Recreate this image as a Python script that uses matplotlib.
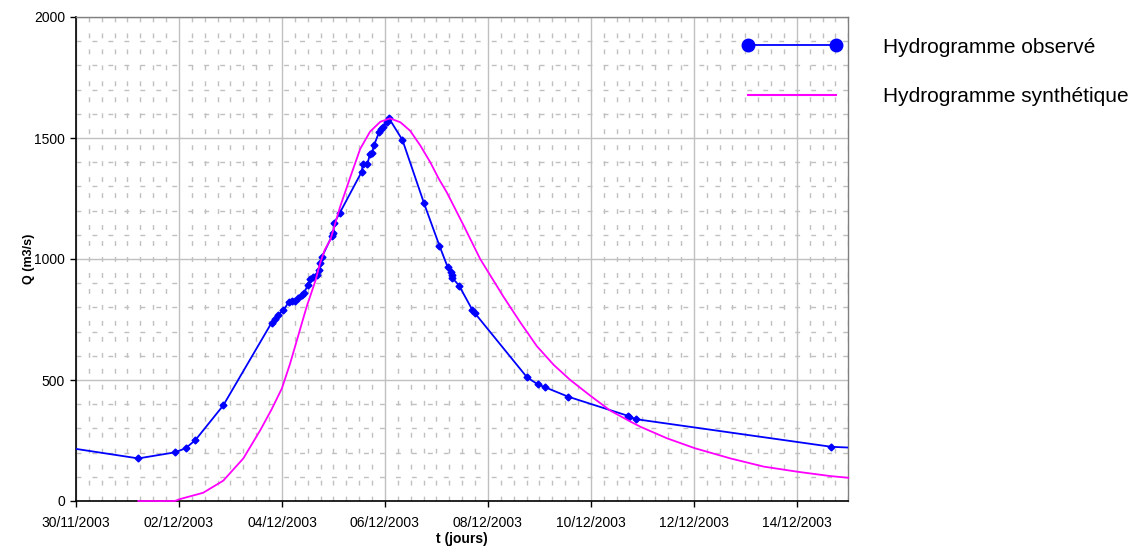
import numpy as np
import pandas as pd
import matplotlib
matplotlib.use('Agg')
import matplotlib.pyplot as plt
import matplotlib.dates as mdates
from matplotlib.lines import Line2D

plt.rcParams['font.family'] = ['Liberation Sans', 'DejaVu Sans']

# time in days since 30/11/2003 00:00
start = pd.Timestamp('2003-11-30')

obs_days = [-0.3, 1.21, 1.92, 2.13, 2.32, 2.86, 3.80, 3.87, 3.93, 4.03, 4.13, 4.19,
            4.26, 4.32, 4.39, 4.43, 4.50, 4.55, 4.61, 4.68, 4.71, 4.74, 4.78, 4.97,
            5.00, 5.01, 5.12, 5.55, 5.57, 5.66, 5.71, 5.75, 5.79, 5.89, 5.92, 5.96,
            6.04, 6.08, 6.34, 6.76, 7.06, 7.22, 7.28, 7.30, 7.31, 7.44, 7.70, 7.74,
            8.76, 8.97, 9.10, 9.56, 10.72, 10.75, 10.88, 14.67, 15.3]
obs_q = [225, 176, 201, 218, 252, 395, 737, 751, 769, 789, 821, 826,
         828, 838, 851, 858, 893, 916, 924, 934, 955, 982, 1010, 1095,
         1106, 1147, 1189, 1361, 1393, 1393, 1434, 1439, 1471, 1526, 1537, 1547,
         1567, 1581, 1492, 1230, 1054, 966, 945, 935, 922, 890, 789, 778,
         511, 482, 471, 431, 352, 348, 338, 224, 218]

syn_days = [1.21, 1.92, 2.02, 2.47, 2.86, 3.25, 3.58, 3.80, 4.00, 4.16, 4.32, 4.48,
            4.65, 4.74, 4.83, 4.94, 5.13, 5.33, 5.52, 5.71, 5.91, 6.10, 6.30, 6.49,
            6.69, 6.88, 7.05, 7.20, 7.53, 7.85, 8.30, 8.63, 8.95, 9.28, 9.60, 9.99,
            10.38, 10.77, 10.96, 11.48, 12.02, 12.71, 13.36, 14.01, 14.65, 15.0]
syn_q = [0, 0, 8, 34, 84, 176, 293, 379, 466, 569, 686, 803,
         910, 982, 1037, 1079, 1216, 1340, 1455, 1526, 1567, 1581, 1565, 1530,
         1468, 1400, 1330, 1276, 1138, 1000, 845, 738, 640, 562, 500, 435,
         373, 328, 307, 259, 218, 176, 142, 121, 103, 96]

labels = ['Hydrogramme observé', 'Hydrogramme synthétique']
x_label = 't (jours)'
y_label = 'Q (m3/s)'


def to_num(days):
    return mdates.date2num(start + pd.to_timedelta(np.asarray(days), unit='D'))


fig = plt.figure(figsize=(11.41, 5.47), dpi=100)
ax = fig.add_axes([76 / 1141, 46 / 547, (848.3 - 76) / 1141, 484 / 547])

grid_col = '#c0c0c0'
x0 = to_num([0])[0]
ax.set_xlim(x0, x0 + 15)
ax.set_ylim(0, 2000)
ax.set_xticks(x0 + np.arange(0, 15, 2))
ax.set_xticks(x0 + np.arange(0, 15.01, 0.25), minor=True)
ax.set_yticks(np.arange(0, 2001, 500))
ax.set_yticks(np.arange(0, 2001, 100), minor=True)
ax.xaxis.set_major_formatter(mdates.DateFormatter('%d/%m/%Y'))

ax.grid(which='major', color=grid_col, lw=1.0, ls='-')
ax.grid(which='minor', color=grid_col, lw=1.0, ls=(0, (3.5, 8)))
ax.set_axisbelow(True)

ax.plot(to_num(obs_days), obs_q, color='#0000ff', lw=1.3, marker='D', ms=3.5,
        zorder=3)
ax.plot(to_num(syn_days), syn_q, color='#ff00ff', lw=1.3, zorder=4, clip_on=False)

for s in ['left', 'bottom']:
    ax.spines[s].set_color('black')
    ax.spines[s].set_linewidth(1.2)
for s in ['top', 'right']:
    ax.spines[s].set_color('#808080')
    ax.spines[s].set_linewidth(1.0)

ax.tick_params(which='major', direction='out', length=4, width=1, labelsize=10,
               colors='black')
ax.tick_params(which='minor', length=0)
ax.tick_params(axis='x', pad=7)
ax.tick_params(axis='y', pad=4)

ax.set_xlabel(x_label, fontsize=10, fontweight='bold', labelpad=1)
ax.set_ylabel(y_label, fontsize=9, fontweight='bold', labelpad=-1)

handles = [Line2D([], [], color='#0000ff', lw=1.3, marker='o', ms=9),
           Line2D([], [], color='#ff00ff', lw=1.5)]
fig.legend(handles, labels, loc='upper left', bbox_to_anchor=(723 / 1141, 1 - 19 / 547),
           frameon=False, fontsize=15, numpoints=2, handlelength=4.8,
           handletextpad=2.0, labelspacing=1.45)

fig.savefig('out.png', dpi=100)
